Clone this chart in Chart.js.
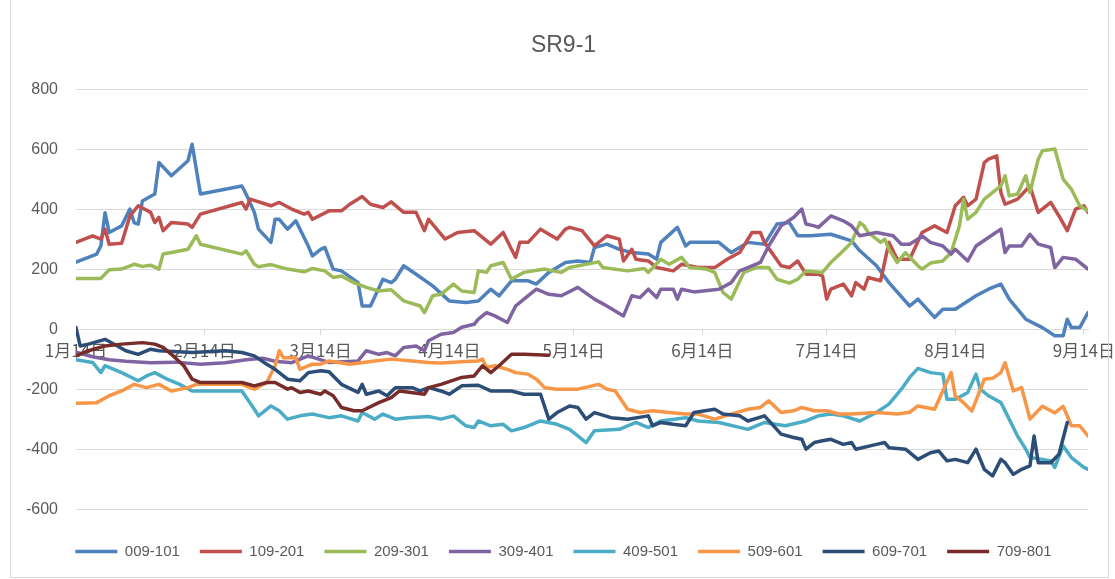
<!DOCTYPE html>
<html><head><meta charset="utf-8">
<script src="https://cdn.jsdelivr.net/npm/chart.js@4.4.1/dist/chart.umd.min.js"></script>
<style>
html,body{margin:0;padding:0;background:#fff;}
#wrap{position:relative;width:1115px;height:579px;overflow:hidden;background:#fff;}
#frame{position:absolute;left:10px;top:-1px;width:1097px;height:577px;border:1px solid #d9d9d9;pointer-events:none;}
canvas{position:absolute;left:0;top:0;}
</style></head><body>
<div id="wrap"><canvas id="c" width="1115" height="579"></canvas><div id="frame"></div></div>
<script>
// x values are day offsets from 1月14日
const tickDays = [0,31,59,90,120,151,181,212,243];
const tickLabels = ['1月14日','2月14日','3月14日','4月14日','5月14日','6月14日','7月14日','8月14日','9月14日'];
const seriesNames = ['009-101','109-201','209-301','309-401','409-501','509-601','609-701','709-801'];

const days009 = [0,5,6,7,8,11,13,14,15,16,19,20,23,27,28,30,40,41,43,44,47,48,49,51,53,56,57,59,60,62,64,68,69,71,74,76,77,79,82,86,90,94,97,100,102,105,109,111,114,118,121,124,125,128,131,134,138,140,141,145,147,148,155,158,162,166,169,172,174,177,182,187,189,193,196,201,203,207,209,212,217,220,223,225,229,233,236,238,239,240,242,244];
const vals009 = [225,252,280,390,324,346,402,357,352,429,452,557,513,563,618,452,479,452,391,335,291,368,368,335,363,279,246,268,274,202,196,157,79,79,168,157,168,213,185,146,96,91,96,135,113,163,163,152,191,224,229,224,274,285,268,257,252,235,291,341,279,291,291,257,291,285,352,357,313,313,318,296,263,213,157,79,102,41,68,68,113,135,152,102,35,7,-20,-20,35,7,7,57];

const days109 = [0,4,6,7,8,11,13,15,18,19,20,21,23,27,28,30,40,41,42,47,49,52,55,56,57,61,64,66,69,71,74,76,79,82,84,85,89,92,96,100,103,105,106,107,109,112,116,118,119,122,125,128,131,132,134,135,138,140,144,146,150,154,157,160,163,165,166,170,172,174,176,179,180,181,182,185,187,188,190,191,194,196,198,201,204,207,210,212,214,215,217,219,220,222,223,224,227,230,232,235,237,239,241,243,244];
const vals109 = [291,313,302,335,285,288,379,413,391,357,374,330,357,352,341,385,424,402,435,413,424,402,385,391,368,396,396,418,444,418,407,426,391,391,330,368,302,324,330,285,324,268,241,291,291,335,302,335,341,330,279,313,302,229,268,235,229,207,196,218,207,207,235,257,324,324,291,213,207,229,185,185,179,102,135,152,113,157,135,174,163,291,235,235,324,346,324,413,441,413,435,557,568,579,457,418,435,479,391,424,379,330,402,413,391];

const days209 = [0,6,8,11,14,16,18,20,21,23,27,29,30,40,41,43,44,47,51,55,57,60,62,64,67,70,73,76,79,83,84,86,88,91,93,96,97,99,100,103,105,108,113,115,117,119,126,127,133,137,138,141,143,146,148,152,154,156,158,161,164,167,169,172,174,176,180,182,185,187,189,190,191,194,195,196,198,200,203,204,206,209,211,213,214,215,217,219,223,224,225,227,229,230,232,233,236,238,240,242,244];
const vals209 = [171,171,200,202,218,211,215,202,252,257,268,313,285,252,263,218,210,217,202,193,204,196,174,179,157,141,129,133,96,79,57,113,118,152,129,124,196,191,213,224,168,191,202,196,191,207,226,207,196,204,191,235,218,241,207,202,191,124,102,191,207,207,168,155,168,196,191,224,263,291,357,346,324,291,302,268,224,257,213,202,222,229,257,346,435,368,391,435,479,513,446,452,513,457,568,596,602,502,468,413,396];

const days309 = [0,4,8,12,18,24,30,36,41,45,48,52,56,61,68,70,73,75,77,79,82,84,85,88,91,93,96,97,99,101,104,106,108,111,114,117,121,125,128,132,134,136,138,140,141,144,145,146,149,155,158,160,162,165,167,170,173,175,176,178,179,182,185,187,189,193,197,199,201,203,204,206,209,211,212,215,217,220,223,224,225,228,230,232,235,236,238,241,244];
const vals309 = [-75,-90,-100,-105,-110,-108,-115,-110,-100,-95,-105,-110,-87,-109,-104,-70,-82,-76,-87,-59,-54,-70,-37,-15,-9,8,18,35,57,46,24,79,102,135,118,113,141,102,79,46,113,107,135,107,135,135,102,135,126,135,157,196,207,224,279,346,374,402,352,346,341,379,363,346,313,324,313,285,285,302,313,291,279,252,268,229,279,307,335,257,279,279,318,285,274,207,241,235,202];

const days409 = [0,4,6,7,11,15,17,19,22,25,28,40,43,44,47,49,51,54,57,59,61,64,68,69,72,74,77,80,85,88,91,94,96,97,100,103,105,108,112,116,119,120,123,125,131,135,138,141,147,150,155,162,166,171,176,179,182,185,189,193,196,199,201,203,206,209,210,212,215,217,218,220,223,225,227,229,230,233,235,236,238,240,243,244];
const vals409 = [-100,-109,-143,-120,-143,-170,-154,-143,-165,-182,-204,-204,-265,-287,-254,-270,-298,-287,-281,-287,-293,-287,-304,-276,-298,-281,-298,-293,-289,-298,-287,-320,-326,-304,-320,-315,-337,-326,-304,-315,-332,-343,-376,-337,-332,-309,-326,-304,-293,-304,-309,-332,-309,-320,-304,-287,-281,-287,-304,-276,-248,-198,-159,-129,-143,-148,-232,-232,-209,-148,-198,-220,-243,-298,-354,-398,-426,-432,-437,-459,-387,-426,-459,-465];

const days509 = [0,5,8,11,14,17,20,23,27,29,40,43,46,48,49,50,53,54,56,57,59,61,66,72,76,81,85,88,93,97,98,99,101,104,106,109,111,113,116,121,126,128,130,133,136,139,143,147,150,154,158,162,165,167,170,173,175,178,181,184,187,193,198,201,203,207,211,212,214,216,219,221,223,224,226,228,230,233,236,238,240,242,244];
const vals509 = [-245,-243,-220,-204,-182,-193,-182,-204,-193,-182,-182,-198,-176,-120,-70,-93,-93,-132,-120,-115,-115,-104,-115,-104,-98,-104,-109,-111,-107,-104,-98,-126,-120,-132,-143,-148,-165,-193,-198,-198,-182,-198,-204,-265,-276,-270,-276,-281,-281,-298,-281,-265,-259,-237,-276,-270,-259,-270,-270,-281,-281,-276,-281,-275,-254,-265,-143,-221,-243,-271,-165,-162,-143,-110,-204,-193,-298,-255,-277,-255,-320,-320,-354];

const days609 = [0,1,3,7,10,12,15,18,20,28,36,40,43,46,48,51,54,56,59,61,64,68,69,70,73,75,77,81,83,85,88,90,93,97,100,105,108,112,114,116,119,121,123,125,129,133,138,139,141,144,147,149,154,156,160,162,166,170,173,175,176,178,180,182,185,187,188,193,195,196,200,203,206,208,210,212,215,217,219,221,223,224,226,228,230,231,232,235,237,239];
const vals609 = [7,-54,-48,-32,-54,-70,-82,-65,-70,-76,-70,-76,-87,-115,-132,-165,-170,-143,-137,-140,-182,-209,-182,-215,-204,-220,-193,-193,-204,-193,-204,-215,-187,-185,-204,-204,-215,-215,-298,-276,-254,-259,-298,-276,-293,-298,-287,-320,-309,-315,-320,-276,-265,-281,-287,-304,-287,-348,-359,-365,-398,-376,-370,-365,-382,-376,-398,-382,-376,-393,-398,-432,-410,-404,-437,-432,-443,-398,-465,-487,-432,-443,-482,-465,-454,-354,-443,-443,-415,-309];

const days709 = [0,3,7,11,16,19,21,23,26,28,30,40,43,46,48,51,52,54,56,59,60,62,64,67,69,73,76,78,84,85,88,93,96,98,100,102,105,108,114];
const vals709 = [-87,-70,-54,-48,-43,-48,-59,-82,-120,-165,-176,-176,-187,-176,-176,-198,-193,-209,-204,-215,-204,-220,-259,-270,-270,-243,-226,-204,-215,-193,-182,-159,-154,-120,-143,-120,-82,-82,-85];

const seriesDays = [days009,days109,days209,days309,days409,days509,days609,days709];
const seriesValues = [vals009,vals109,vals209,vals309,vals409,vals509,vals609,vals709];
const seriesColors = ['#4F81BD','#C0504D','#9BBB59','#8064A2','#4BACC6','#F79646','#2C4D75','#772C2A'];

const textColor = '#595959';
const gridColor = '#d9d9d9';
const latinFont = '"Liberation Sans", Arial, sans-serif';

const datasets = seriesNames.map((name, i) => ({
  label: name,
  data: seriesDays[i].map((d, j) => ({x: d, y: seriesValues[i][j]})),
  borderColor: seriesColors[i],
  backgroundColor: seriesColors[i],
  borderWidth: 3.5,
  pointRadius: 0,
  pointHoverRadius: 0,
  tension: 0,
  fill: false,
  borderJoinStyle: 'round',
  borderCapStyle: 'round',
  order: seriesNames.length - i
}));

new Chart(document.getElementById('c'), {
  type: 'line',
  data: {datasets},
  options: {
    responsive: false,
    animation: false,
    events: [],
    layout: {padding: {left: 12, right: 0, top: 0, bottom: 10}},
    plugins: {
      title: {
        display: true, text: 'SR9-1', color: textColor,
        font: {family: latinFont, size: 23, weight: 'normal'},
        padding: {top: 32, bottom: 30}
      },
      subtitle: {
        display: true, text: ' ', position: 'bottom', weight: 500,
        font: {size: 1}, padding: {top: 13, bottom: 0}
      },
      legend: {
        position: 'bottom',
        labels: {
          usePointStyle: true, pointStyle: 'line', pointStyleWidth: 42, boxHeight: 15,
          padding: 20, color: textColor,
          font: {family: latinFont, size: 15},
          sort: (a, b) => a.datasetIndex - b.datasetIndex
        }
      },
      tooltip: {enabled: false}
    },
    scales: {
      x: {
        type: 'linear', position: {y: 0}, min: 0, max: 244,
        grid: {display: true, drawOnChartArea: false, drawTicks: true, tickLength: 5, color: gridColor},
        border: {display: true, color: gridColor},
        ticks: {
          autoSkip: false, maxRotation: 0, minRotation: 0, padding: 6, color: textColor,
          font: {family: '"Noto Sans CJK SC", sans-serif', size: 17},
          callback: (v) => { const k = tickDays.indexOf(v); return k >= 0 ? tickLabels[k] : ''; }
        },
        afterBuildTicks: (s) => { s.ticks = tickDays.map(v => ({value: v})); },
        afterFit: (s) => { s.paddingLeft = 0; s.paddingRight = 0; }
      },
      y: {
        min: -600, max: 800,
        ticks: {stepSize: 200, padding: 18, color: textColor, font: {family: latinFont, size: 16}},
        grid: {color: gridColor, drawTicks: false},
        border: {display: false},
        afterFit: (s) => { s.width = 64; }
      },
      yRight: {
        position: 'right', display: true,
        grid: {display: false, drawTicks: false},
        border: {display: false},
        ticks: {display: false},
        afterFit: (s) => { s.width = 27; }
      }
    }
  }
});
</script>
</body></html>
